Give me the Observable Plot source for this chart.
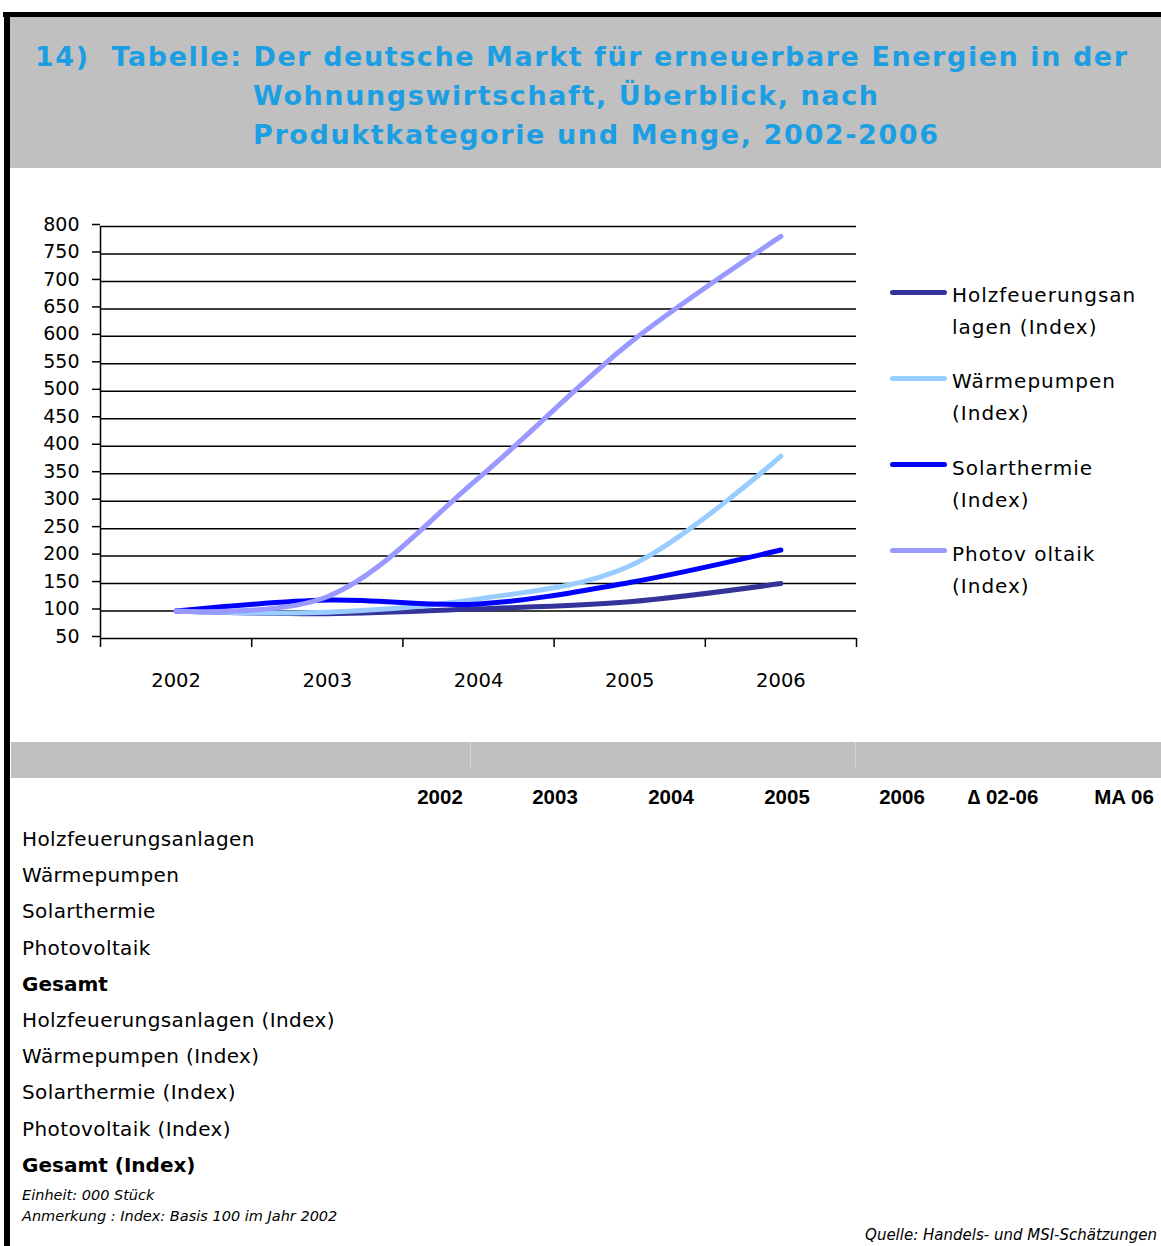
<!DOCTYPE html>
<html><head><meta charset="utf-8">
<script src="https://cdn.jsdelivr.net/npm/d3@7"></script>
<script src="https://cdn.jsdelivr.net/npm/@observablehq/plot@0.6"></script>
<style>
html,body{margin:0;padding:0;}
body{width:1161px;height:1246px;position:relative;background:#fff;overflow:hidden;font-family:"DejaVu Sans",sans-serif;color:#000;}
.abs{position:absolute;white-space:nowrap;}
</style></head><body>
<script>
// ---------- data ----------
const years = [2002, 2003, 2004, 2005, 2006];
const seriesNames = ["Holzfeuerungsanlagen (Index)", "Wärmepumpen (Index)", "Solarthermie (Index)", "Photovoltaik (Index)"];
const holzValues = [100, 95, 104, 117, 150];
const waermeValues = [100, 98, 122, 182, 382];
const solarValues = [100, 120, 113, 152, 211];
const photoValues = [100, 126, 342, 588, 782];
const seriesColors = ["#333399", "#99ccff", "#0000ff", "#9999ff"];
const legendLabels = [["Holzfeuerungsan", "lagen (Index)"], ["Wärmepumpen", "(Index)"], ["Solarthermie", "(Index)"], ["Photov oltaik", "(Index)"]];
const yTicks = [50, 100, 150, 200, 250, 300, 350, 400, 450, 500, 550, 600, 650, 700, 750, 800];
const titleLines = ["14)  Tabelle: Der deutsche Markt für erneuerbare Energien in der", "Wohnungswirtschaft, Überblick, nach", "Produktkategorie und Menge, 2002-2006"];
const tableColumns = ["2002", "2003", "2004", "2005", "2006", "∆ 02-06", "MA 06"];
const tableRows = ["Holzfeuerungsanlagen", "Wärmepumpen", "Solarthermie", "Photovoltaik", "Gesamt", "Holzfeuerungsanlagen (Index)", "Wärmepumpen (Index)", "Solarthermie (Index)", "Photovoltaik (Index)", "Gesamt (Index)"];
const boldRows = ["Gesamt", "Gesamt (Index)"];
const footnotes = ["Einheit: 000 Stück", "Anmerkung : Index: Basis 100 im Jahr 2002"];
const sourceNote = "Quelle: Handels- und MSI-Schätzungen";

// ---------- helpers ----------
function el(tag, css, text) {
  const e = document.createElement(tag);
  e.className = "abs";
  Object.assign(e.style, css);
  if (text !== undefined) e.textContent = text;
  document.body.appendChild(e);
  return e;
}
const ctx = document.createElement("canvas").getContext("2d");
function fitSpacing(text, font, target) {
  ctx.font = font;
  const w = ctx.measureText(text).width;
  return (target - w) / (text.length - 1);
}

// ---------- frame ----------
el("div", {left: "9px", top: "17px", width: "1152px", height: "151px", background: "#c0c0c0"});
el("div", {left: "3px", top: "12px", width: "1158px", height: "5px", background: "#000"});
el("div", {left: "4px", top: "12px", width: "6px", height: "1234px", background: "#000"});

// ---------- title ----------
const titleFont = "bold 27px 'DejaVu Sans'";
const titleGeom = [{x: 35, w: 1092, base: 66}, {x: 253, w: 625, base: 105}, {x: 253, w: 685, base: 144}];
titleLines.forEach((t, i) => {
  const g = titleGeom[i];
  const ls = fitSpacing(t, titleFont, g.w);
  el("div", {left: g.x + "px", top: (g.base - 24) + "px", font: titleFont, lineHeight: "30px", color: "#1c9ee3", letterSpacing: ls + "px", whiteSpace: "pre"}, t);
});

// ---------- chart ----------
const seriesValues = [holzValues, waermeValues, solarValues, photoValues];
const data = [];
seriesNames.forEach((name, i) => years.forEach((yr, j) => data.push({series: name, year: yr, value: seriesValues[i][j]})));
const bounds = years.map(y => y - 0.5).concat([years[years.length - 1] + 0.5]);

const chart = Plot.plot({
  width: 870, height: 560,
  marginLeft: 100, marginRight: 14, marginTop: 46, marginBottom: 102,
  style: {fontFamily: "'DejaVu Sans'", fontSize: "19px", color: "#000", background: "transparent", overflow: "visible"},
  x: {domain: [bounds[0], bounds[bounds.length - 1]], axis: null, label: null},
  y: {domain: [50, 800], axis: null, label: null},
  color: {domain: seriesNames, range: seriesColors},
  marks: [
    Plot.gridY(yTicks, {stroke: "#000", strokeOpacity: 1, strokeWidth: 1.5}),
    Plot.axisY(yTicks, {tickSize: 8, tickPadding: 13, strokeWidth: 1.5, fontSize: 19, dy: -2, label: null}),
    Plot.ruleX([bounds[0]], {y1: 50, y2: 800, strokeWidth: 1.5}),
    Plot.axisX(bounds, {tickSize: 9, tickFormat: () => "", strokeWidth: 1.5, label: null}),
    Plot.axisX(years, {tickSize: 0, tickPadding: 35, tickFormat: d => String(d), fontSize: 19.5, label: null}),
    Plot.line(data, {x: "year", y: "value", z: "series", stroke: "series", strokeWidth: 5, curve: "catmull-rom", strokeLinecap: "round", strokeLinejoin: "round"})
  ]
});
const chartWrap = el("div", {left: "0px", top: "180px"});
chartWrap.appendChild(chart);

// ---------- legend ----------
legendLabels.forEach((lines, i) => {
  const top = 279 + i * 86.3;
  el("div", {left: "890px", top: (top + 10.5) + "px", width: "57px", height: "5px", borderRadius: "3px", background: seriesColors[i]});
  el("div", {left: "952px", top: top + "px", fontSize: "20px", lineHeight: "32px", letterSpacing: "1px", whiteSpace: "pre"}, lines.join("\n"));
});

// ---------- table ----------
el("div", {left: "11px", top: "742px", width: "1150px", height: "36px", background: "#c0c0c0"});
[470, 855].forEach(x => el("div", {left: x + "px", top: "742px", width: "1px", height: "26px", background: "#d6d6d6"}));
const colCenters = [440, 555, 671, 787, 902, 1003, 1124];
tableColumns.forEach((c, i) => {
  el("div", {left: (colCenters[i] - 60) + "px", top: "786px", width: "120px", textAlign: "center", font: "bold 20.5px 'Liberation Sans'", lineHeight: "22px"}, c);
});
tableRows.forEach((r, i) => {
  const bold = boldRows.includes(r);
  el("div", {left: "22px", top: (821 + i * 36.2) + "px", fontSize: "20px", lineHeight: "36px", fontWeight: bold ? "bold" : "normal", letterSpacing: bold ? "0px" : "0.4px"}, r);
});
footnotes.forEach((f, i) => {
  el("div", {left: "22px", top: (1186 + i * 20.5) + "px", fontSize: "14.5px", fontStyle: "italic", lineHeight: "18px"}, f);
});
el("div", {right: "4px", top: "1226px", fontSize: "15px", fontStyle: "italic", lineHeight: "18px"}, sourceNote);
</script>
</body></html>
